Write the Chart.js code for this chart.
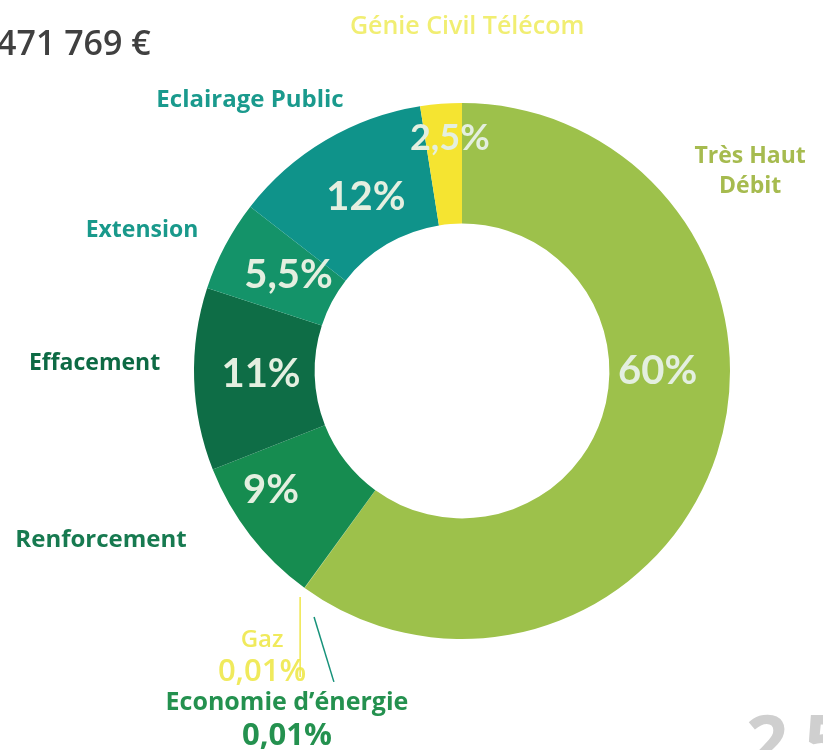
<!DOCTYPE html>
<html>
<head>
<meta charset="utf-8">
<script src="https://cdn.jsdelivr.net/npm/chart.js@4"></script>
<style>
  html, body { margin: 0; padding: 0; background: #fff; }
  #wrap { width: 823px; height: 750px; position: relative; }
</style>
</head>
<body>
<div id="wrap"><canvas id="donut"></canvas></div>
<script>
// data
const categories = ["Très Haut Débit", "Gaz", "Economie d’énergie", "Renforcement", "Effacement", "Extension", "Eclairage Public", "Génie Civil Télécom"];
const shares = [60, 0.01, 0.01, 9, 11, 5.5, 12, 2.5];
const totalText = "471 769 €";
const pageNumber = "25";

const sliceColors = ["#9dc14b", "#f3e43a", "#17927a", "#168c50", "#0e6d46", "#149369", "#0f938a", "#f5e431"];
const nameColors = ["#a6bb4f", "#f0ea5c", "#24914f", "#177a50", "#0d6a44", "#19998b", "#1a9a8d", "#f1ee72"];

function pct(v) { return String(v).replace(".", ",") + "%"; }

// where the texts go, in units of the outer radius from the centre
// inner percentages: [clock angle or null for mid-slice, radius fraction, font size]
const pctPlace = [[90, 0.73, 40], null, null, [238, 0.84, 40], [269, 0.75, 40], [299, 0.74, 40], [331, 0.74, 40], [357, 0.87, 36]];
// outer names: [dx, dy, lines, line gap, name font, value font]
const namePlace = [
  [1.075, -0.799, ["Très Haut", "Débit"], 30, "bold 23px", "bold 23px"],
  [-0.746, 1.004, ["Gaz", null], 32, "600 24px", "600 31px"],
  [-0.653, 1.239, ["Economie d’énergie", null], 33, "bold 25px", "bold 31px"],
  [-1.347, 0.631, ["Renforcement"], 0, "bold 24px"],
  [-1.371, -0.03, ["Effacement"], 0, "bold 23px"],
  [-1.194, -0.526, ["Extension"], 0, "bold 23px"],
  [-0.791, -1.011, ["Eclairage Public"], 0, "bold 24px"],
  [0.019, -1.284, ["Génie Civil Télécom"], 0, "600 25px"]
];

const labelPlugin = {
  id: "sliceLabels",
  afterDatasetsDraw(chart) {
    const ctx = chart.ctx;
    const arcs = chart.getDatasetMeta(0).data;
    const cx = arcs[0].x, cy = arcs[0].y, R = arcs[0].outerRadius;
    ctx.save();
    ctx.textAlign = "center";
    ctx.textBaseline = "middle";

    // percentages inside the ring
    arcs.forEach((arc, i) => {
      const p = pctPlace[i];
      if (!p) return;
      const a = p[0] != null ? (p[0] - 90) * Math.PI / 180 : (arc.startAngle + arc.endAngle) / 2;
      ctx.font = "bold " + p[2] + "px Lato";
      ctx.fillStyle = "#e4efe0";
      ctx.fillText(pct(shares[i]), cx + Math.cos(a) * R * p[1], cy + Math.sin(a) * R * p[1]);
    });

    // names around the ring
    namePlace.forEach((n, i) => {
      const x = cx + n[0] * R, y = cy + n[1] * R;
      ctx.fillStyle = nameColors[i];
      n[2].forEach((line, k) => {
        const isValue = line === null;
        ctx.font = (isValue ? n[5] : n[4]) + " 'Open Sans'";
        ctx.fillText(isValue ? pct(shares[i]) : line, x, y + k * n[3]);
      });
    });

    // leader lines for the two tiny slices
    const leaders = [[-0.604, 0.843, -0.604, 1.142, "#efe64a"], [-0.552, 0.918, -0.478, 1.16, "#17927a"]];
    leaders.forEach(l => {
      ctx.strokeStyle = l[4];
      ctx.lineWidth = 1.5;
      ctx.beginPath();
      ctx.moveTo(cx + l[0] * R, cy + l[1] * R);
      ctx.lineTo(cx + l[2] * R, cy + l[3] * R);
      ctx.stroke();
    });

    // total at top left, page number bottom right
    ctx.textAlign = "left";
    ctx.textBaseline = "alphabetic";
    ctx.font = "600 34px 'Open Sans'";
    ctx.fillStyle = "#404040";
    ctx.fillText(totalText, -3, 55);
    ctx.font = "bold 74px 'Open Sans'";
    ctx.fillStyle = "#cfcfcf";
    ctx.letterSpacing = "16px";
    ctx.fillText(pageNumber, 746, 768);
    ctx.restore();
  }
};

new Chart(document.getElementById("donut").getContext("2d"), {
  type: "doughnut",
  data: {
    labels: categories,
    datasets: [
      {
        data: shares,
        backgroundColor: sliceColors,
        borderWidth: 0,
      },
    ],
  },
  options: {
    responsive: true,
    maintainAspectRatio: false,
    animation: false,
    cutout: "55%",
    layout: { padding: { left: 194, right: 93, top: 103, bottom: 111 } },
    plugins: { legend: { display: false }, tooltip: { enabled: false } },
  },
  plugins: [labelPlugin],
});
</script>
</body>
</html>
